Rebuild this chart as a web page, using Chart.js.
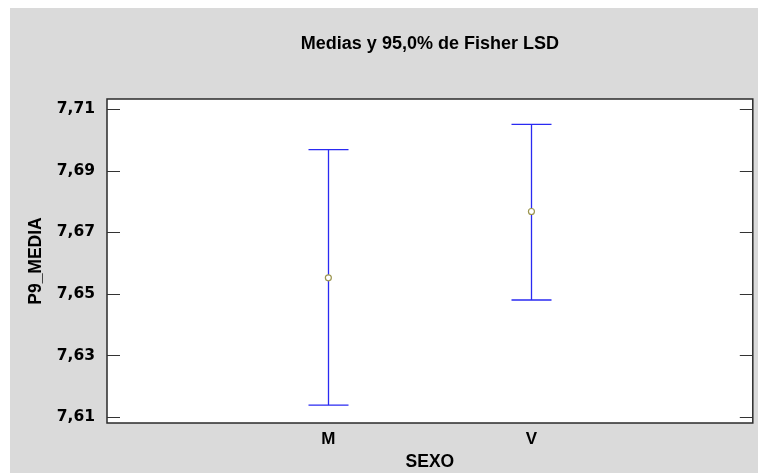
<!DOCTYPE html>
<html>
<head>
<meta charset="utf-8">
<script src="https://cdn.jsdelivr.net/npm/chart.js@4"></script>
<style>
  html, body { margin: 0; padding: 0; background: #ffffff; }
  canvas { display: block; }
</style>
</head>
<body>
<canvas id="c" width="758" height="473"></canvas>
<script>
// ---- data ----
const categories = ['M', 'V'];
const means = [7.6552, 7.6767];
const lower = [7.6139, 7.6480];
const upper = [7.6968, 7.7050];
const yTicks = [7.61, 7.63, 7.65, 7.67, 7.69, 7.71];
const chartTitle = 'Medias y 95,0% de Fisher LSD';
const xTitle = 'SEXO';
const yTitle = 'P9_MEDIA';

const FONT = "'Liberation Sans', Arial, sans-serif";
const TICKFONT = "'DejaVu Sans', 'Liberation Sans', sans-serif";
const BG = '#dadada';
const BAR = '#2a2af2';
const CAP_HALF = 20;
const TICK_LEN = 13;

const framePlugin = {
  id: 'frame',
  beforeDraw(chart) {
    const {ctx, chartArea: a, width, height} = chart;
    ctx.save();
    ctx.fillStyle = '#ffffff';
    ctx.fillRect(0, 0, width, height);
    ctx.fillStyle = BG;
    ctx.fillRect(10, 8, width - 10, height - 8);
    ctx.fillStyle = '#ffffff';
    ctx.fillRect(a.left, a.top, a.right - a.left, a.bottom - a.top);
    ctx.restore();
  },
  beforeDatasetsDraw(chart) {
    const {ctx} = chart;
    const xs = chart.scales.x, ys = chart.scales.y;
    ctx.save();
    ctx.strokeStyle = BAR;
    ctx.lineWidth = 1.3;
    categories.forEach((c, i) => {
      const x = Math.round(xs.getPixelForValue(i)) + 0.5;
      const yl = ys.getPixelForValue(lower[i]);
      const yu = ys.getPixelForValue(upper[i]);
      ctx.beginPath();
      ctx.moveTo(x, yu); ctx.lineTo(x, yl);
      ctx.moveTo(x - CAP_HALF, yu); ctx.lineTo(x + CAP_HALF, yu);
      ctx.moveTo(x - CAP_HALF, yl); ctx.lineTo(x + CAP_HALF, yl);
      ctx.stroke();
    });
    ctx.restore();
  },
  afterDraw(chart) {
    const {ctx, chartArea: a} = chart;
    const ys = chart.scales.y;
    ctx.save();
    ctx.strokeStyle = '#2a2a2a';
    ctx.lineWidth = 1.5;
    ctx.strokeRect(a.left, a.top, a.right - a.left, a.bottom - a.top);
    ctx.lineWidth = 1;
    ctx.strokeStyle = '#333333';
    ctx.beginPath();
    yTicks.forEach(v => {
      const y = Math.round(ys.getPixelForValue(v)) + 0.5;
      ctx.moveTo(a.left, y); ctx.lineTo(a.left + TICK_LEN, y);
      ctx.moveTo(a.right - TICK_LEN, y); ctx.lineTo(a.right, y);
    });
    ctx.stroke();
    ctx.restore();
  }
};

new Chart(document.getElementById('c'), {
  type: 'scatter',
  data: {
    datasets: [{
      data: categories.map((c, i) => ({x: i, y: means[i]})),
      showLine: false,
      pointRadius: 3,
      pointBorderWidth: 1.2,
      pointBorderColor: '#9c9650',
      pointBackgroundColor: '#ffffff'
    }]
  },
  options: {
    responsive: false,
    devicePixelRatio: 1,
    animation: false,
    layout: { padding: { left: 0, right: 3, top: 0, bottom: 0 } },
    plugins: {
      legend: { display: false },
      tooltip: { enabled: false },
      title: {
        display: true,
        text: chartTitle,
        fullSize: false,
        color: '#000000',
        font: { family: FONT, size: 18, weight: 'bold' },
        padding: { top: 33, bottom: 44.4 }
      }
    },
    scales: {
      x: {
        type: 'linear',
        min: -1.09,
        max: 2.09,
        afterBuildTicks: s => { s.ticks = categories.map((c, i) => ({value: i})); },
        afterFit: s => { s.height = 50; },
        grid: { display: false, drawTicks: false },
        border: { display: false },
        ticks: {
          autoSkip: false,
          maxRotation: 0,
          padding: 6,
          color: '#000000',
          font: { family: FONT, size: 17, weight: 'bold' },
          callback: v => categories[v] ?? ''
        },
        title: {
          display: true,
          text: xTitle,
          color: '#000000',
          font: { family: FONT, size: 17.5, weight: 'bold' },
          padding: { top: 0, bottom: 0 }
        }
      },
      y: {
        type: 'linear',
        min: 7.6081,
        max: 7.7132,
        afterBuildTicks: s => { s.ticks = yTicks.map(v => ({value: v})); },
        afterFit: s => { s.width = 107; },
        grid: { display: false, drawTicks: false },
        border: { display: false },
        ticks: {
          padding: 12,
          color: '#000000',
          font: { family: TICKFONT, size: 15.5, weight: 'bold' },
          callback: v => Number(v).toFixed(2).replace('.', ',')
        },
        title: {
          display: true,
          text: yTitle,
          color: '#000000',
          font: { family: FONT, size: 17.5, weight: 'bold' },
          padding: { top: 25.5, bottom: 0 }
        }
      }
    }
  },
  plugins: [framePlugin]
});
</script>
</body>
</html>
